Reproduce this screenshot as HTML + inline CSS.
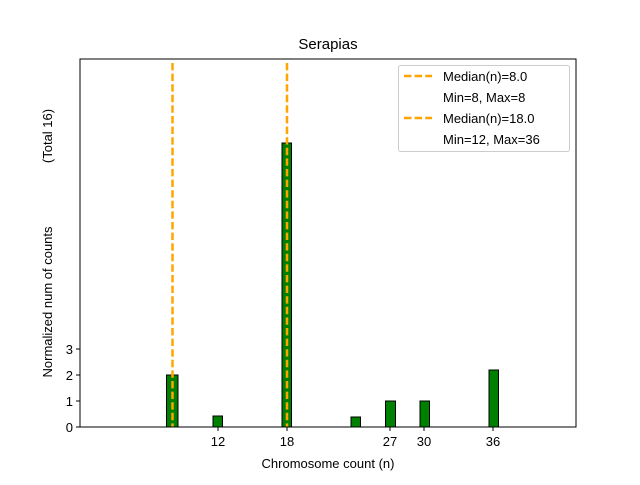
<!DOCTYPE html>
<html><head><style>body{margin:0;background:#fff}</style></head><body>
<svg width="640" height="480" xmlns="http://www.w3.org/2000/svg" font-family="Liberation Sans, DejaVu Sans, sans-serif">
<rect width="640" height="480" fill="#fff"/>
<g fill="#008000" stroke="#000" stroke-width="1">
<rect x="166.5" y="375" width="11.5" height="52"/>
<rect x="213" y="416" width="9.5" height="11"/>
<rect x="282" y="143" width="9.5" height="284"/>
<rect x="351" y="417" width="9.5" height="10"/>
<rect x="385.5" y="401" width="10" height="26"/>
<rect x="420" y="401" width="9.5" height="26"/>
<rect x="489" y="370" width="9.5" height="57"/>
</g>
<g stroke="#FFA500" stroke-width="2.5" stroke-dasharray="7.4,3.2">
<line x1="172.5" y1="63" x2="172.5" y2="427"/>
<line x1="287" y1="63" x2="287" y2="427"/>
</g>
<rect x="80" y="59" width="496" height="368" fill="none" stroke="#000" stroke-width="1"/>
<g stroke="#000" stroke-width="1">
<line x1="76" y1="427" x2="80" y2="427"/><line x1="76" y1="401" x2="80" y2="401"/>
<line x1="76" y1="375" x2="80" y2="375"/><line x1="76" y1="349" x2="80" y2="349"/>
<line x1="218" y1="427" x2="218" y2="431"/><line x1="287" y1="427" x2="287" y2="431"/>
<line x1="390" y1="427" x2="390" y2="431"/><line x1="424" y1="427" x2="424" y2="431"/>
<line x1="493" y1="427" x2="493" y2="431"/>
</g>
<g font-size="13" fill="#000" text-anchor="end">
<text x="73" y="432">0</text><text x="73" y="406">1</text><text x="73" y="380">2</text><text x="73" y="354">3</text>
</g>
<g font-size="13" fill="#000" text-anchor="middle">
<text x="218" y="446">12</text><text x="287" y="446">18</text><text x="390" y="446">27</text>
<text x="424" y="446">30</text><text x="493" y="446">36</text>
<text x="328" y="468">Chromosome count (n)</text>
<text x="328" y="49" font-size="15">Serapias</text>
</g>
<text transform="translate(52,302) rotate(-90)" font-size="13" text-anchor="middle">Normalized num of counts</text>
<text transform="translate(52,136) rotate(-90)" font-size="13" text-anchor="middle">(Total 16)</text>
<rect x="398.5" y="65.5" width="171" height="86" rx="2" fill="#fff" stroke="#ccc"/>
<g stroke="#FFA500" stroke-width="2.5" stroke-dasharray="7.4,3.2">
<line x1="404" y1="76" x2="432" y2="76"/><line x1="404" y1="118" x2="432" y2="118"/>
</g>
<g font-size="13" fill="#000">
<text x="443" y="81">Median(n)=8.0</text>
<text x="443" y="102">Min=8, Max=8</text>
<text x="443" y="123">Median(n)=18.0</text>
<text x="443" y="144">Min=12, Max=36</text>
</g>
</svg>
</body></html>
